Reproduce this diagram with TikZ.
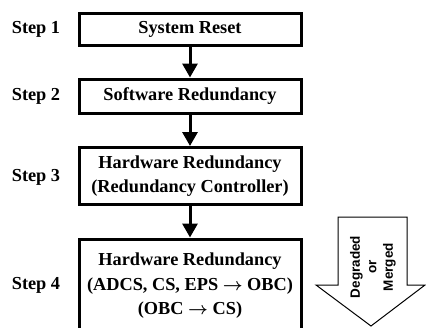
\documentclass[tikz,border=0pt]{standalone}
\usepackage{fontspec}
\usepackage{bm}
\setmainfont{Liberation Serif}
\newfontfamily\arialf{Liberation Sans}
\usetikzlibrary{arrows.meta}
\newcommand{\rarr}{$\bm{\rightarrow}$}
\begin{document}
\begin{tikzpicture}[x=1pt,y=-1pt,
  stepbox/.style={draw, line width=3pt, minimum width=222pt, align=center, inner sep=0pt,
    font=\bfseries\fontsize{18.3}{24.5}\selectfont},
  steplabel/.style={font=\bfseries\fontsize{18.3}{24.5}\selectfont, inner sep=0pt},
  flow/.style={line width=3pt, -{Triangle[length=14pt,width=15pt]}},
  bigarrow/.style={draw, line width=1pt, fill=white}]
\useasboundingbox (0,0) rectangle (426,327);
\node[stepbox, minimum height=32pt] (b1) at (190,29.5) {System Reset};
\node[stepbox, minimum height=34pt] (b2) at (190,96) {Software Redundancy};
\node[stepbox, minimum height=57pt] (b3) at (190,176) {Hardware Redundancy\\(Redundancy Controller)};
\begin{scope}
\clip (0,0) rectangle (426,327);
\node[stepbox, minimum height=94pt] (b4) at (190,286) {Hardware Redundancy\\(ADCS, CS, EPS \rarr\ OBC)\\(OBC \rarr\ CS)};
\end{scope}
\node[steplabel] (s1) at (36,29) {Step 1};
\node[steplabel] (s2) at (36,96) {Step 2};
\node[steplabel] (s3) at (36,177) {Step 3};
\node[steplabel] (s4) at (36,285) {Step 4};
\draw[flow] (b1) -- (b2);
\draw[flow] (b2) -- (b3);
\draw[flow] (b3) -- (b4);
\draw[bigarrow] (338,217) -- (407,217) -- (407,285) -- (425,285) -- (371,326) -- (316,285) -- (338,285) -- cycle;
\node[rotate=90, align=center, font=\arialf\bfseries\fontsize{13.5}{16.5}\selectfont, inner sep=0pt] (txt) at (373,267) {Degraded\\or\\Merged};
\end{tikzpicture}
\end{document}
